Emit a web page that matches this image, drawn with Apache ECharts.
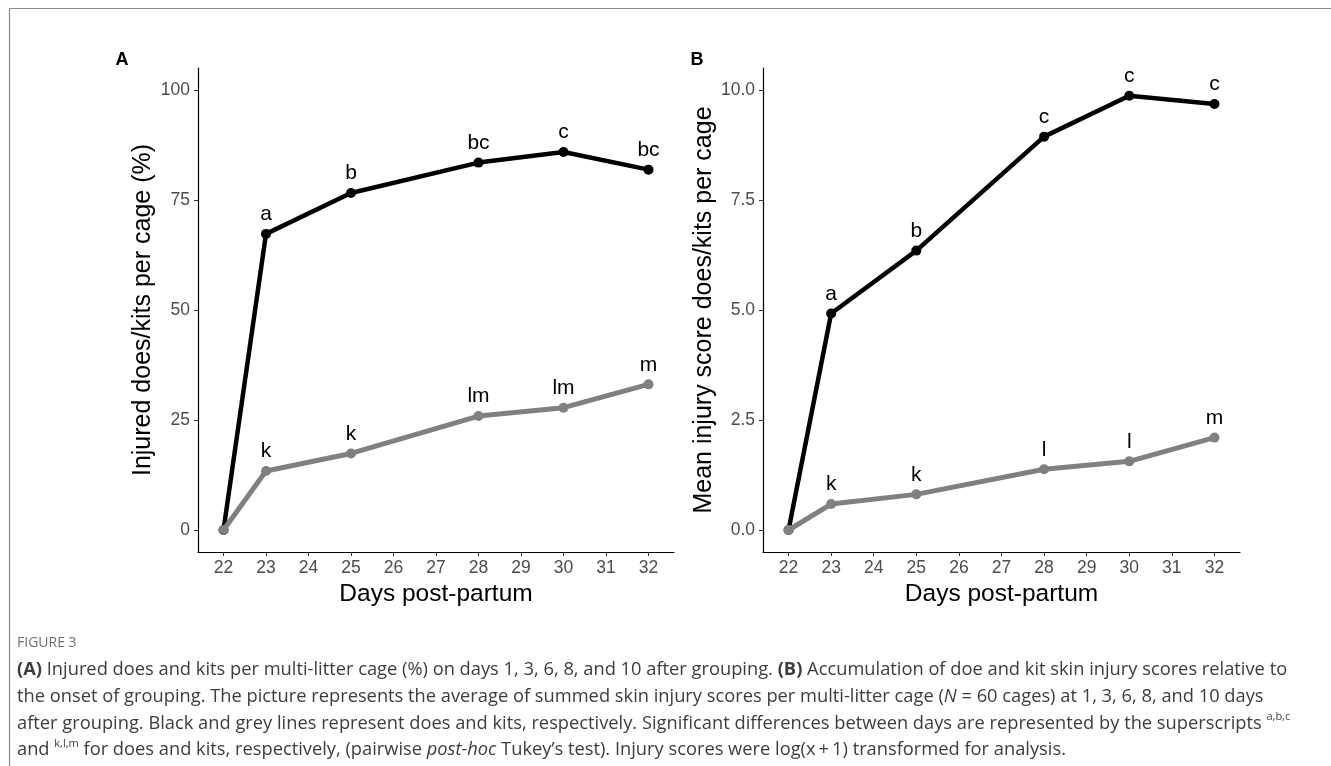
<!DOCTYPE html>
<html>
<head>
<meta charset="utf-8">
<script src="https://cdn.jsdelivr.net/npm/echarts@6/dist/echarts.min.js"></script>
<style>
html,body{margin:0;padding:0;background:#fff;}
#c{width:1331px;height:766px;}
</style>
</head>
<body>
<div id="c"></div>
<script>
// ---- data ----
const days = [22, 23, 25, 28, 30, 32];
const xTicks = [22, 23, 24, 25, 26, 27, 28, 29, 30, 31, 32];
const yTicksA = [0, 25, 50, 75, 100];
const yTicksB = [0, 2.5, 5, 7.5, 10];
const doesPct = [0, 67.3, 76.6, 83.5, 85.9, 81.9];
const kitsPct = [0, 13.4, 17.4, 25.9, 27.8, 33.1];
const doesScore = [0, 4.92, 6.35, 8.94, 9.87, 9.68];
const kitsScore = [0, 0.59, 0.81, 1.38, 1.56, 2.10];
const doesLettersA = ['', 'a', 'b', 'bc', 'c', 'bc'];
const kitsLettersA = ['', 'k', 'k', 'lm', 'lm', 'm'];
const doesLettersB = ['', 'a', 'b', 'c', 'c', 'c'];
const kitsLettersB = ['', 'k', 'k', 'l', 'l', 'm'];

const FONT = '"Liberation Sans", Arial, sans-serif';
const CAPFONT = '"Open Sans", "Noto Sans", sans-serif';

function pairs(xs, ys) { return xs.map((x, i) => [x, ys[i]]); }

function xAxisDef(gi) {
  return {
    type: 'value', gridIndex: gi, min: 21.4, max: 32.6,
    name: 'Days post-partum', nameLocation: 'middle', nameGap: 26,
    nameTextStyle: { fontFamily: FONT, fontSize: 24.5, color: '#000' },
    axisLine: { show: true, onZero: false, lineStyle: { color: '#000', width: 1.2 } },
    axisTick: { show: true, length: 4, lineStyle: { color: '#333' }, customValues: xTicks },
    axisLabel: { show: true, margin: 7, fontFamily: FONT, fontSize: 17.5, color: '#4d4d4d', customValues: xTicks },
    splitLine: { show: false }
  };
}
function yAxisDef(gi, min, max, ticks, name, gap, fmt) {
  return {
    type: 'value', gridIndex: gi, min: min, max: max,
    name: name, nameLocation: 'middle', nameGap: gap,
    nameTextStyle: { fontFamily: FONT, fontSize: 25, color: '#000' },
    axisLine: { show: true, onZero: false, lineStyle: { color: '#000', width: 1.2 } },
    axisTick: { show: true, length: 4, lineStyle: { color: '#333' }, customValues: ticks },
    axisLabel: { show: true, margin: 8, fontFamily: FONT, fontSize: 17.5, color: '#4d4d4d', customValues: ticks, formatter: fmt },
    splitLine: { show: false }
  };
}
function lineSeries(gi, ys, letters, color, width, z) {
  return {
    type: 'line', xAxisIndex: gi, yAxisIndex: gi, z: z,
    data: pairs(days, ys),
    symbol: 'circle', symbolSize: 10,
    lineStyle: { color: color, width: width },
    itemStyle: { color: color },
    label: {
      show: true, position: 'top', distance: 4,
      fontFamily: FONT, fontSize: 21, color: '#000',
      formatter: p => letters[p.dataIndex]
    },
    emphasis: { disabled: true },
    animation: false
  };
}

const capLines = [
  '{b|(A)} Injured does and kits per multi-litter cage (%) on days 1, 3, 6, 8, and 10 after grouping. {b|(B)} Accumulation of doe and kit skin injury scores relative to',
  'the onset of grouping. The picture represents the average of summed skin injury scores per multi-litter cage ({i|N} = 60 cages) at 1, 3, 6, 8, and 10 days',
  'after grouping. Black and grey lines represent does and kits, respectively. Significant differences between days are represented by the superscripts {s|a,b,c}',
  'and {s|k,l,m} for does and kits, respectively, (pairwise {i|post-hoc} Tukey\u2019s test). Injury scores were log(x\u2009+\u20091) transformed for analysis.'
];
const CAPSIZE = 18.3;
const capRich = {
  b: { fontWeight: 'bold', fontFamily: CAPFONT, fontSize: CAPSIZE, color: '#3d3d3d' },
  i: { fontStyle: 'italic', fontFamily: CAPFONT, fontSize: CAPSIZE, color: '#3d3d3d' },
  s: { fontFamily: CAPFONT, fontSize: 11, color: '#666', verticalAlign: 'top', lineHeight: 24 }
};

const graphics = [
  { type: 'line', shape: { x1: 9.5, y1: 8.5, x2: 1331, y2: 8.5 }, style: { stroke: '#8a8a8a', lineWidth: 1.2 } },
  { type: 'line', shape: { x1: 9.5, y1: 8.5, x2: 9.5, y2: 766 }, style: { stroke: '#8a8a8a', lineWidth: 1.2 } },
  { type: 'text', x: 122, y: 60, style: { text: 'A', fontFamily: FONT, fontWeight: 'bold', fontSize: 18, fill: '#000', align: 'center', verticalAlign: 'middle' } },
  { type: 'text', x: 697, y: 60, style: { text: 'B', fontFamily: FONT, fontWeight: 'bold', fontSize: 18, fill: '#000', align: 'center', verticalAlign: 'middle' } },
  { type: 'text', x: 17, y: 643, style: { text: 'FIGURE 3', fontFamily: CAPFONT, fontSize: 14, fill: '#6f6f6f', verticalAlign: 'middle' } }
];
const capY = [670, 697, 723.5, 750];
capLines.forEach((t, i) => {
  graphics.push({
    type: 'text', x: 17, y: capY[i],
    style: { text: t, rich: capRich, fontFamily: CAPFONT, fontSize: CAPSIZE, fill: '#3d3d3d', verticalAlign: 'middle', lineHeight: 24 }
  });
});

const chart = echarts.init(document.getElementById('c'), null, { renderer: 'canvas' });
chart.setOption({
  backgroundColor: '#fff',
  animation: false,
  grid: [
    { left: 198, top: 68, width: 476, height: 484, containLabel: false },
    { left: 763, top: 68, width: 477, height: 484, containLabel: false }
  ],
  xAxis: [xAxisDef(0), xAxisDef(1)],
  yAxis: [
    yAxisDef(0, -5, 105, yTicksA, 'Injured does/kits per cage (%)', 42, v => String(v)),
    yAxisDef(1, -0.5, 10.5, yTicksB, 'Mean injury score does/kits per cage', 40, v => v.toFixed(1))
  ],
  series: [
    lineSeries(0, doesPct, doesLettersA, '#000', 4.5, 2),
    lineSeries(0, kitsPct, kitsLettersA, '#808080', 5, 3),
    lineSeries(1, doesScore, doesLettersB, '#000', 4.5, 2),
    lineSeries(1, kitsScore, kitsLettersB, '#808080', 5, 3)
  ],
  graphic: graphics
});
</script>
</body>
</html>
